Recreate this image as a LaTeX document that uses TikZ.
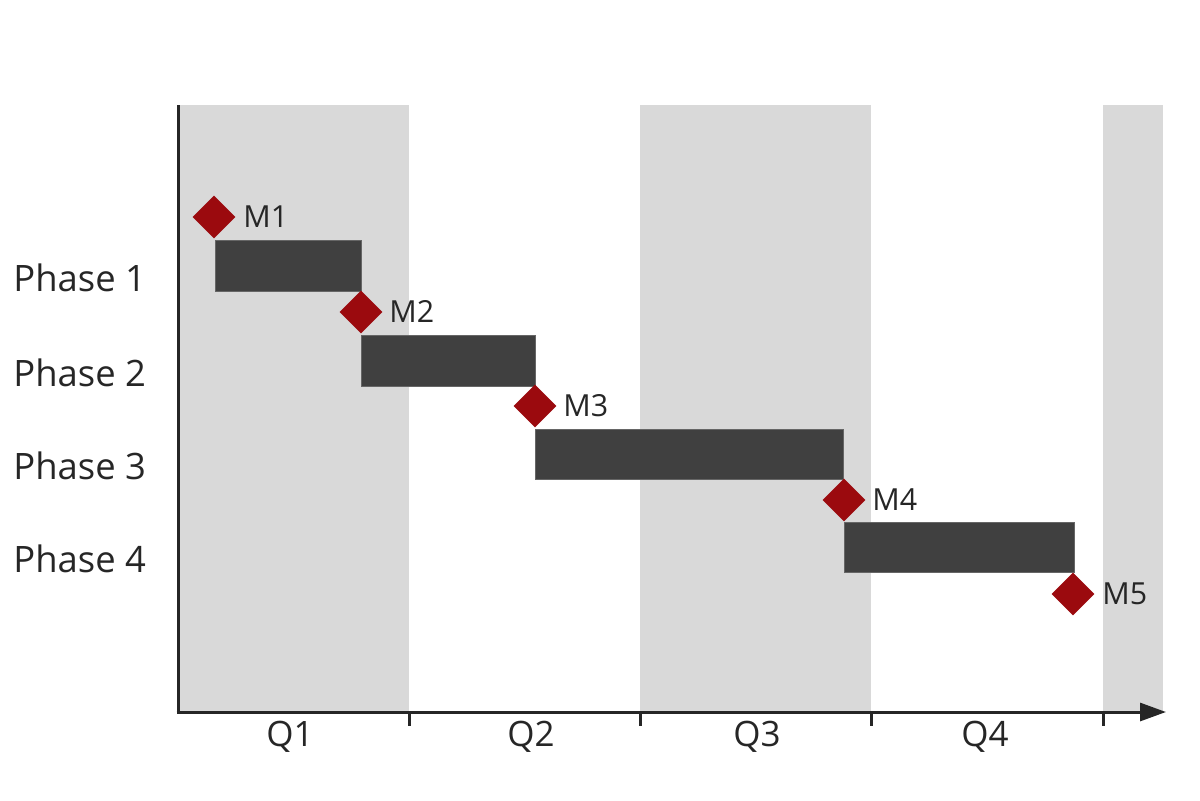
\documentclass[tikz,border=0pt]{standalone}
\usepackage{fontspec}
\setmainfont{Open Sans}
\usetikzlibrary{arrows.meta,shapes.geometric}
\definecolor{band}{HTML}{D9D9D9}
\definecolor{barc}{HTML}{404040}
\definecolor{mred}{HTML}{9B0A0E}
\definecolor{axisc}{HTML}{262626}
\begin{document}
\begin{tikzpicture}[x=0.5pt,y=-0.5pt,
  bandbox/.style={fill=band,draw=none},
  phasebar/.style={fill=barc,draw=barc!80,line width=0.4pt},
  milestone/.style={diamond,fill=mred,draw=none,minimum width=21.5pt,minimum height=21.5pt,inner sep=0pt},
  mlabel/.style={anchor=base west,font=\fontsize{15.2}{18}\selectfont,text=axisc,inner sep=0pt},
  phaselabel/.style={anchor=base west,font=\fontsize{18.2}{22}\selectfont,text=axisc,inner sep=0pt},
  qlabel/.style={anchor=base,font=\fontsize{17.5}{20}\selectfont,text=axisc,inner sep=0pt},
  axisline/.style={draw=axisc,line width=1.5pt},
  tickline/.style={draw=axisc,line width=1.5pt}]
\useasboundingbox (0,0) rectangle (1200,800);
% bands
\fill[bandbox] (178,105) rectangle (409,712);
\fill[bandbox] (640,105) rectangle (871,712);
\fill[bandbox] (1103,105) rectangle (1163,712);
% bars
\node[phasebar,anchor=north west,minimum width=73pt,minimum height=25.5pt,inner sep=0pt] (b1) at (215,240) {};
\node[phasebar,anchor=north west,minimum width=87pt,minimum height=25.5pt,inner sep=0pt] (b2) at (361,335) {};
\node[phasebar,anchor=north west,minimum width=154pt,minimum height=25pt,inner sep=0pt] (b3) at (535,429) {};
\node[phasebar,anchor=north west,minimum width=115pt,minimum height=25pt,inner sep=0pt] (b4) at (844,522) {};
% milestones
\node[milestone] (m1) at (214,217) {};
\node[milestone] (m2) at (361,312) {};
\node[milestone] (m3) at (535,406) {};
\node[milestone] (m4) at (844,500) {};
\node[milestone] (m5) at (1073,594) {};
\node[mlabel] (l1) at (243,227) {M1};
\node[mlabel] (l2) at (389,322) {M2};
\node[mlabel] (l3) at (563,416) {M3};
\node[mlabel] (l4) at (872,510) {M4};
\node[mlabel] (l5) at (1102,604) {M5};
% phase labels
\node[phaselabel] (p1) at (13,291) {Phase 1};
\node[phaselabel] (p2) at (13,386) {Phase 2};
\node[phaselabel] (p3) at (13,479) {Phase 3};
\node[phaselabel] (p4) at (13,572) {Phase 4};
% axes
\coordinate (o) at (178,712);
\coordinate (top) at (178,105);
\coordinate (xend) at (1166,712);
\draw[axisline] (top) -- (o);
\draw[axisline,-{Triangle[length=13pt,width=9pt]}] ([xshift=-0.75pt]o) -- (xend);
\foreach \x/\n in {409/t1,640/t2,871/t3,1103/t4}{
  \coordinate (\n) at (\x,712);
  \draw[tickline] (\n) -- ++(0,14);
}
\node[qlabel] (q1) at (290,746) {Q1};
\node[qlabel] (q2) at (531,746) {Q2};
\node[qlabel] (q3) at (757,746) {Q3};
\node[qlabel] (q4) at (985,746) {Q4};
\end{tikzpicture}
\end{document}
